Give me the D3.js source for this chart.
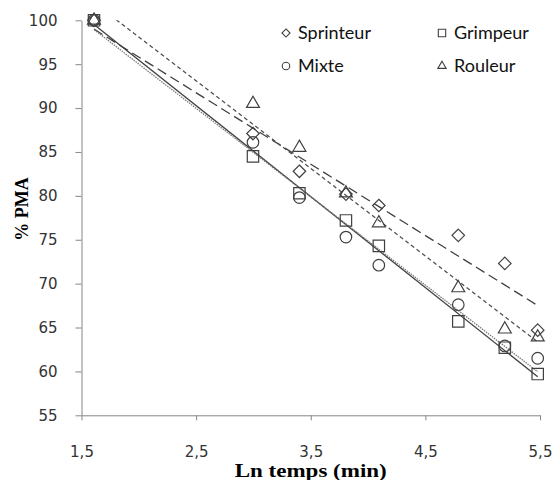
<!DOCTYPE html>
<html>
<head>
<meta charset="utf-8">
<script src="https://cdn.jsdelivr.net/npm/d3@7"></script>
<style>
  body { margin: 0; background: #fff; }
  svg { display: block; }
</style>
</head>
<body>
<div id="chart"></div>
<script>
// ln(temps) : 5, 20, 30, 45, 60, 120, 180, 240 min
const xLn = [1.609, 2.996, 3.401, 3.807, 4.094, 4.787, 5.193, 5.48]
const sprinteur = [100, 87.1, 82.8, 80.2, 78.9, 75.5, 72.3, 64.7]
const grimpeur = [100, 84.5, 80.3, 77.2, 74.3, 65.7, 62.7, 59.7]
const mixte = [100, 86.1, 79.8, 75.3, 72.1, 67.6, 62.9, 61.5]
const rouleur = [100, 90.5, 85.5, 80.3, 76.9, 69.5, 64.8, 63.9]
const xTicks = [1.5, 2.5, 3.5, 4.5, 5.5]
const yTicks = [55, 60, 65, 70, 75, 80, 85, 90, 95, 100]

const width = 556, height = 480
const plotL = 81.5, plotR = 540, plotT = 20.3, plotB = 415.3

let svg = d3.select('#chart')
    .append('svg')
    .attr('width', width)
    .attr('height', height)

let x = d3.scaleLinear().domain([1.5, 5.5]).range([plotL, plotR])
let y = d3.scaleLinear().domain([55, 100]).range([plotB, plotT])

let fmt = v => d3.format('.1f')(v).replace('.', ',')

svg.append('defs').append('clipPath')
    .attr('id', 'plot')
    .append('rect')
    .attr('x', plotL)
    .attr('y', plotT)
    .attr('width', plotR - plotL)
    .attr('height', plotB - plotT)

// axes
let gx = svg.append('g')
    .attr('transform', `translate(0,${plotB})`)
    .call(d3.axisBottom(x).tickValues(xTicks).tickSize(5).tickSizeOuter(0).tickPadding(26).tickFormat(fmt))
let gy = svg.append('g')
    .attr('transform', `translate(${plotL},0)`)
    .call(d3.axisLeft(y).tickValues(yTicks).tickSize(6).tickSizeOuter(0).tickPadding(18).tickFormat(d3.format('d')))

for (let g of [gx, gy]) {
    g.selectAll('path, line').attr('stroke', '#868686').attr('stroke-width', 1)
    g.selectAll('text')
        .style('font-family', 'DejaVu Sans, sans-serif')
        .style('font-size', '15px')
        .attr('fill', '#333')
}

// axis titles
svg.append('text')
    .attr('x', (plotL + plotR) / 2)
    .attr('y', 477)
    .attr('text-anchor', 'middle')
    .attr('textLength', 152)
    .attr('lengthAdjust', 'spacingAndGlyphs')
    .style('font-family', 'Liberation Serif, serif')
    .style('font-weight', 'bold')
    .style('font-size', '18px')
    .text('Ln temps (min)')

svg.append('text')
    .attr('transform', 'translate(28,209) rotate(-90)')
    .attr('text-anchor', 'middle')
    .style('font-family', 'Liberation Serif, serif')
    .style('font-weight', 'bold')
    .style('font-size', '18px')
    .text('% PMA')

let series = [
    { name: 'Sprinteur', values: sprinteur, symbol: d3.symbolDiamond2, size: 100, dash: '10,5', color: '#404040' },
    { name: 'Grimpeur', values: grimpeur, symbol: d3.symbolSquare2, size: 165, dash: null, color: '#404040' },
    { name: 'Mixte', values: mixte, symbol: d3.symbolCircle, size: 105, dash: '1.5,1', color: '#7a7a7a' },
    { name: 'Rouleur', values: rouleur, symbol: d3.symbolTriangle2, size: 120, dash: '4,3', color: '#505050' }
]

// linear trend lines (least squares)
function fit(vals) {
    let mx = d3.mean(xLn), my = d3.mean(vals)
    let sxy = d3.sum(xLn, (v, i) => (v - mx) * (vals[i] - my))
    let sxx = d3.sum(xLn, v => (v - mx) * (v - mx))
    let b = sxy / sxx
    return t => my + b * (t - mx)
}

let plot = svg.append('g').attr('clip-path', 'url(#plot)')

series.forEach(s => {
    let f = fit(s.values)
    let ends = d3.extent(xLn)
    plot.append('line')
        .attr('x1', x(ends[0]))
        .attr('y1', y(f(ends[0])))
        .attr('x2', x(ends[1]))
        .attr('y2', y(f(ends[1])))
        .attr('stroke', s.color)
        .attr('stroke-width', 1.3)
        .attr('stroke-dasharray', s.dash)
})

series.forEach(s => {
    svg.append('g').selectAll('path')
        .data(s.values)
        .join('path')
        .attr('transform', (d, i) => `translate(${x(xLn[i])},${y(d)})`)
        .attr('d', d3.symbol().type(s.symbol).size(s.size))
        .attr('fill', 'none')
        .attr('stroke', '#404040')
        .attr('stroke-width', 1.2)
})

// legend
let legendPos = [[286, 33], [442, 33], [286, 66], [442, 66]]
let legendOrder = ['Sprinteur', 'Grimpeur', 'Mixte', 'Rouleur']
legendOrder.forEach((name, k) => {
    let s = series.find(d => d.name === name)
    let p = legendPos[k]
    svg.append('path')
        .attr('transform', `translate(${p[0]},${p[1]})`)
        .attr('d', d3.symbol().type(s.symbol).size(s.size * 0.42))
        .attr('fill', 'none')
        .attr('stroke', '#404040')
        .attr('stroke-width', 1.1)
    svg.append('text')
        .attr('x', p[0] + 12)
        .attr('y', p[1] + 6)
        .style('font-family', 'Lato, sans-serif')
        .style('font-size', '18px')
        .attr('fill', '#111')
        .text(name)
})
</script>
</body>
</html>
